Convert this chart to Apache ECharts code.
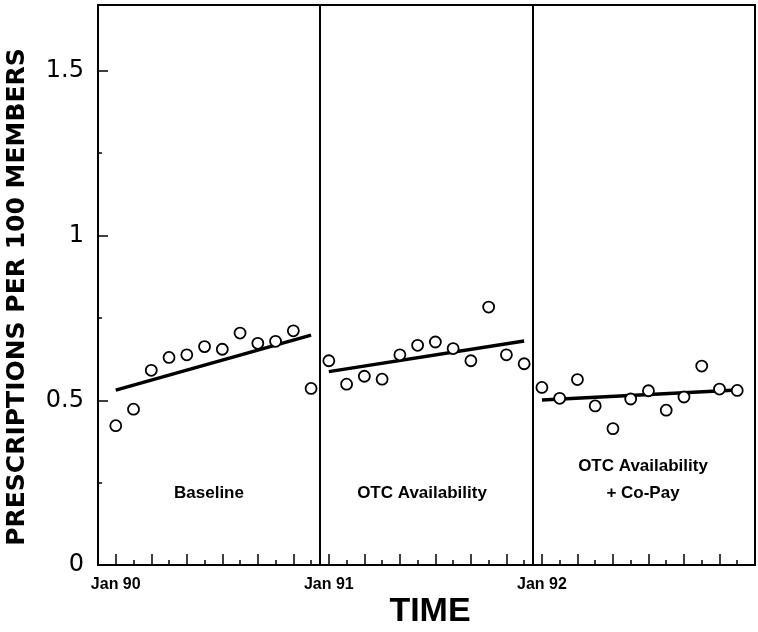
<!DOCTYPE html>
<html>
<head>
<meta charset="utf-8">
<script src="https://cdn.jsdelivr.net/npm/echarts@6/dist/echarts.min.js"></script>
<style>
html,body{margin:0;padding:0;background:#fff;}
#c{width:758px;height:632px;}
</style>
</head>
<body>
<div id="c"></div>
<script>
// ---- data ----
const periodNames = ['Baseline', 'OTC Availability', 'OTC Availability\n+ Co-Pay'];
const periodStart = [0, 12, 24];          // month index of first point of each period
const baseline = [0.423,0.473,0.591,0.630,0.638,0.663,0.655,0.704,0.673,0.679,0.711,0.536];
const otcAvail = [0.620,0.549,0.573,0.564,0.638,0.667,0.677,0.657,0.620,0.783,0.638,0.611];
const otcCopay = [0.539,0.506,0.563,0.483,0.414,0.504,0.529,0.470,0.510,0.604,0.534,0.530];
const trendStart = [0.531, 0.587, 0.501];
const trendEnd   = [0.698, 0.680, 0.531];
const dividers = [11.5, 23.5];             // period boundaries (between Dec and Jan)
const tickLabels = ['Jan 90', 'Jan 91', 'Jan 92'];
const tickLabelMonths = [0, 12, 24];
const yTicks = [0, 0.5, 1, 1.5];

const periods = [baseline, otcAvail, otcCopay];
const xMin = -1, xMax = 36;

const chart = echarts.init(document.getElementById('c'), null, {renderer:'canvas'});

const scatterSeries = periods.map((vals, p) => ({
  type: 'scatter',
  xAxisIndex: 0, yAxisIndex: 0,
  symbol: 'circle', symbolSize: 11,
  itemStyle: {color: '#fff', borderColor: '#000', borderWidth: 1.8, opacity: 1},
  data: vals.map((v, i) => [periodStart[p] + i, v]),
  z: 5
}));
const trendSeries = periods.map((vals, p) => ({
  type: 'line',
  xAxisIndex: 0, yAxisIndex: 0,
  symbol: 'none',
  lineStyle: {color: '#000', width: 3.5},
  data: [[periodStart[p], trendStart[p]], [periodStart[p] + vals.length - 1, trendEnd[p]]],
  z: 4
}));
trendSeries[0].markLine = {
  silent: true, symbol: 'none', label: {show: false},
  lineStyle: {color: '#000', width: 2, type: 'solid'},
  data: dividers.map(d => ({xAxis: d}))
};

const catData = [];
for (let i = xMin; i <= xMax; i++) catData.push(String(i));

const labelFont = 'Liberation Sans, Arial, sans-serif';

chart.setOption({
  animation: false,
  backgroundColor: '#fff',
  grid: {left: 98, right: 2, top: 5, bottom: 67, show: true, borderColor: '#000', borderWidth: 2, backgroundColor: 'transparent'},
  xAxis: [{
    type: 'value', min: xMin, max: xMax, interval: 1, position: 'bottom',
    axisLine: {show: true, onZero: false, lineStyle: {color: '#000', width: 2}},
    axisTick: {show: true, inside: true, length: 5, lineStyle: {color: '#000', width: 1.5}},
    splitLine: {show: false},
    axisLabel: {
      show: true, margin: 12, color: '#000', fontFamily: labelFont, fontWeight: 'bold', fontSize: 16,
      formatter: v => { const k = tickLabelMonths.indexOf(Math.round(v)); return (k >= 0 && Math.abs(v - Math.round(v)) < 1e-6) ? tickLabels[k] : ''; }
    }
  }, {
    type: 'category', data: catData, boundaryGap: false, position: 'bottom',
    axisLine: {show: false, onZero: false},
    axisTick: {show: true, inside: true, length: 11, lineStyle: {color: '#000', width: 1.5},
      interval: (idx) => { const m = idx + xMin; return m >= 0 && m < 36 && m % 2 === 0; }},
    axisLabel: {show: false},
    splitLine: {show: false}
  }],
  yAxis: [{
    type: 'value', min: 0, max: 1.7, interval: 0.5, position: 'left',
    axisLine: {show: true, onZero: false, lineStyle: {color: '#000', width: 2}},
    axisTick: {show: true, inside: true, length: 10, lineStyle: {color: '#000', width: 1.5}},
    splitLine: {show: false},
    axisLabel: {show: true, margin: 14, color: '#000', fontFamily: 'DejaVu Sans, sans-serif', fontSize: 24,
      formatter: v => yTicks.indexOf(v) >= 0 ? String(v) : ''}
  }, {
    type: 'value', min: 0, max: 1.7, interval: 0.25, position: 'left',
    axisLine: {show: false, onZero: false},
    axisTick: {show: true, inside: true, length: 4, lineStyle: {color: '#000', width: 1.5}},
    splitLine: {show: false},
    axisLabel: {show: false}
  }],
  graphic: [
    {type: 'text', x: 17, y: 297, rotation: Math.PI / 2,
      style: {text: 'PRESCRIPTIONS PER 100 MEMBERS', fill: '#000', font: 'bold 25px "DejaVu Sans", sans-serif', textAlign: 'center', textVerticalAlign: 'middle'}},
    {type: 'text', x: 430, y: 612,
      style: {text: 'TIME', fill: '#000', font: 'bold 34px "Liberation Sans", Arial, sans-serif', textAlign: 'center', textVerticalAlign: 'middle'}},
    {type: 'text', x: 209, y: 493,
      style: {text: periodNames[0], fill: '#000', font: 'bold 17px "Liberation Sans", Arial, sans-serif', textAlign: 'center', textVerticalAlign: 'middle'}},
    {type: 'text', x: 422, y: 493,
      style: {text: periodNames[1], fill: '#000', font: 'bold 17px "Liberation Sans", Arial, sans-serif', textAlign: 'center', textVerticalAlign: 'middle'}},
    {type: 'text', x: 643, y: 480,
      style: {text: periodNames[2], fill: '#000', font: 'bold 17px "Liberation Sans", Arial, sans-serif', textAlign: 'center', textVerticalAlign: 'middle', lineHeight: 27}}
  ],
  series: [...trendSeries, ...scatterSeries]
});
</script>
</body>
</html>
